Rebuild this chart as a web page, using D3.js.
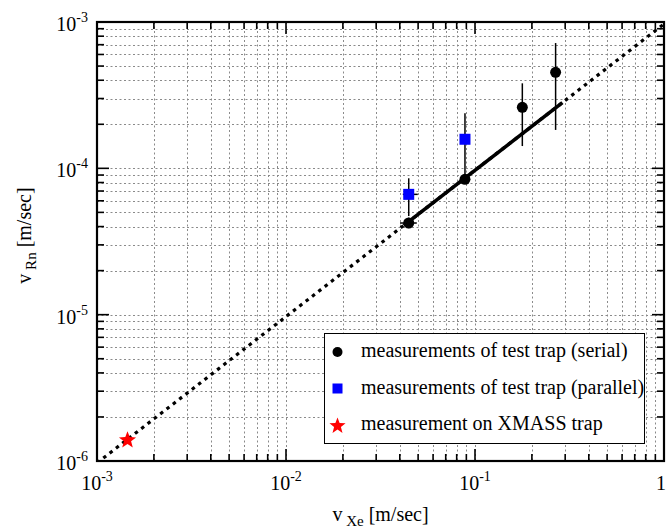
<!DOCTYPE html>
<html>
<head>
<meta charset="utf-8">
<script src="https://cdn.jsdelivr.net/npm/d3@7"></script>
<style>
  html, body { margin: 0; padding: 0; background: #fff; }
  svg { display: block; }
</style>
</head>
<body>
<svg id="chart" width="667" height="530" font-family="'Liberation Serif', 'DejaVu Serif', serif"></svg>
<script>
// Test-trap measurements, serial configuration
const serialX    = [0.0446, 0.0885, 0.178, 0.267];
const serialY    = [4.23e-5, 8.41e-5, 2.61e-4, 4.53e-4];
const serialYLo  = [3.9e-5, 8.0e-5, 1.42e-4, 1.83e-4];
const serialYHi  = [4.6e-5, 8.9e-5, 3.81e-4, 7.18e-4];
const serialXLo  = [0.0401, 0.0885, 0.178, 0.267];
const serialXHi  = [0.0492, 0.0885, 0.178, 0.267];

// Test-trap measurements, parallel configuration
const parallelX   = [0.0446, 0.0885];
const parallelY   = [6.64e-5, 1.58e-4];
const parallelYLo = [4.72e-5, 9.0e-5];
const parallelYHi = [8.55e-5, 2.38e-4];
const parallelXLo = [0.0415, 0.0885];
const parallelXHi = [0.0498, 0.0885];

// XMASS trap measurement
const xmassX = [0.00145];
const xmassY = [1.41e-6];

// Linear fit v_Rn = k * v_Xe
const fitK = 0.97e-3;
const fitSolidRange  = [0.042, 0.29];
const fitDottedRange = [0.001, 1];

const xDomain = [1e-3, 1];
const yDomain = [1e-6, 1e-3];
const xTickExp = [-3, -2, -1, 0];
const yTickExp = [-6, -5, -4, -3];

const legendLabels = [
  "measurements of test trap (serial)",
  "measurements of test trap (parallel)",
  "measurement on XMASS trap"
];

const svg = d3.select("#chart");
const L = 97, R = 664, T = 22, B = 461;
const FONT = "'Liberation Serif', 'DejaVu Serif', serif";

const x = d3.scaleLog().domain(xDomain).range([L, R]);
const y = d3.scaleLog().domain(yDomain).range([B, T]);

// Minor + major positions for grid
function logPositions(domain) {
  const out = [];
  const e0 = Math.round(Math.log10(domain[0])), e1 = Math.round(Math.log10(domain[1]));
  for (let e = e0; e < e1; e++) {
    for (let m = 1; m <= 9; m++) out.push({ v: m * Math.pow(10, e), major: m === 1 });
  }
  out.push({ v: Math.pow(10, e1), major: true });
  return out;
}
const xPos = logPositions(xDomain);
const yPos = logPositions(yDomain);

svg.append("defs").append("clipPath").attr("id", "plotClip")
  .append("rect").attr("x", L).attr("y", T).attr("width", R - L).attr("height", B - T);

// Dotted grid
const grid = svg.append("g").attr("stroke", "#8a8a8a").attr("stroke-width", 1)
  .attr("stroke-dasharray", "2,2.5");
grid.selectAll(".gx").data(xPos.filter(d => d.v > xDomain[0] && d.v < xDomain[1])).join("line")
  .attr("x1", d => Math.round(x(d.v)) + 0.5).attr("x2", d => Math.round(x(d.v)) + 0.5)
  .attr("y1", T).attr("y2", B);
grid.selectAll(".gy").data(yPos.filter(d => d.v > yDomain[0] && d.v < yDomain[1])).join("line")
  .attr("y1", d => Math.round(y(d.v)) + 0.5).attr("y2", d => Math.round(y(d.v)) + 0.5)
  .attr("x1", L).attr("x2", R);

// Ticks on all four sides (inward)
const ticks = svg.append("g").attr("stroke", "#000").attr("stroke-width", 1.6);
const majLen = 12, minLen = 7;
xPos.forEach(d => {
  const px = x(d.v), len = d.major ? majLen : minLen;
  ticks.append("line").attr("x1", px).attr("x2", px).attr("y1", B).attr("y2", B - len);
  ticks.append("line").attr("x1", px).attr("x2", px).attr("y1", T).attr("y2", T + len);
});
yPos.forEach(d => {
  const py = y(d.v), len = d.major ? majLen : minLen;
  ticks.append("line").attr("y1", py).attr("y2", py).attr("x1", L).attr("x2", L + len);
  ticks.append("line").attr("y1", py).attr("y2", py).attr("x1", R).attr("x2", R - len);
});

// Fit lines
const plot = svg.append("g").attr("clip-path", "url(#plotClip)");
const lineGen = d3.line().x(d => x(d[0])).y(d => y(d[1]));
plot.append("path")
  .datum(fitDottedRange.map(v => [v, fitK * v]))
  .attr("d", lineGen).attr("fill", "none").attr("stroke", "#000")
  .attr("stroke-width", 3.2).attr("stroke-dasharray", "3.5,4.5");
plot.append("path")
  .datum(fitSolidRange.map(v => [v, fitK * v]))
  .attr("d", lineGen).attr("fill", "none").attr("stroke", "#000")
  .attr("stroke-width", 3.6);

// Error bars
function errorBars(xs, ys, yLo, yHi, xLo, xHi) {
  const g = plot.append("g").attr("stroke", "#000").attr("stroke-width", 1.5);
  xs.forEach((xv, i) => {
    g.append("line").attr("x1", x(xv)).attr("x2", x(xv)).attr("y1", y(yLo[i])).attr("y2", y(yHi[i]));
    g.append("line").attr("x1", x(xLo[i])).attr("x2", x(xHi[i])).attr("y1", y(ys[i])).attr("y2", y(ys[i]));
  });
}
errorBars(serialX, serialY, serialYLo, serialYHi, serialXLo, serialXHi);
errorBars(parallelX, parallelY, parallelYLo, parallelYHi, parallelXLo, parallelXHi);

function starPath(ro) {
  const ri = ro * 0.42, pts = [];
  for (let k = 0; k < 10; k++) {
    const r = k % 2 === 0 ? ro : ri;
    const a = -Math.PI / 2 + k * Math.PI / 5;
    pts.push([r * Math.cos(a), r * Math.sin(a)]);
  }
  return "M" + pts.map(p => p[0].toFixed(2) + "," + p[1].toFixed(2)).join("L") + "Z";
}

// Markers
plot.selectAll(".serial").data(serialX).join("circle")
  .attr("cx", d => x(d)).attr("cy", (d, i) => y(serialY[i])).attr("r", 5.5).attr("fill", "#000");
plot.selectAll(".parallel").data(parallelX).join("rect")
  .attr("x", d => x(d) - 5.5).attr("y", (d, i) => y(parallelY[i]) - 5.5)
  .attr("width", 11).attr("height", 11).attr("fill", "#0000ff");
plot.selectAll(".xmass").data(xmassX).join("path")
  .attr("d", starPath(9))
  .attr("transform", (d, i) => `translate(${x(d)},${y(xmassY[i]) + 1})`)
  .attr("fill", "#ff0000");

// Legend
const lg = svg.append("g");
lg.append("rect").attr("x", 324.5).attr("y", 333.5).attr("width", 320).attr("height", 110)
  .attr("fill", "#fff").attr("stroke", "#000").attr("stroke-width", 1);
const rowY = [352, 388.5, 425];
lg.append("circle").attr("cx", 337.5).attr("cy", rowY[0]).attr("r", 5).attr("fill", "#000");
lg.append("rect").attr("x", 332.5).attr("y", rowY[1] - 5).attr("width", 10).attr("height", 10).attr("fill", "#0000ff");
lg.append("path").attr("d", starPath(8.5)).attr("transform", `translate(337.5,${rowY[2] + 1})`).attr("fill", "#ff0000");
legendLabels.forEach((t, i) => {
  lg.append("text").attr("x", 361).attr("y", rowY[i] + 5)
    .attr("font-family", FONT).attr("font-size", 20).text(t);
});

// Frame
svg.append("rect").attr("x", L).attr("y", T).attr("width", R - L).attr("height", B - T)
  .attr("fill", "none").attr("stroke", "#000").attr("stroke-width", 2.2);

// Tick labels
function powLabel(sel, e) {
  if (e === 0) { sel.append("tspan").text("1"); return; }
  sel.append("tspan").text("10");
  sel.append("tspan").attr("dy", -9).attr("font-size", 14).text(String(e));
}
yTickExp.forEach(e => {
  const t = svg.append("text").attr("x", 88).attr("y", y(Math.pow(10, e)) + 9)
    .attr("text-anchor", "end").attr("font-family", FONT).attr("font-size", 20);
  powLabel(t, e);
});
xTickExp.forEach(e => {
  const last = e === 0;
  const t = svg.append("text")
    .attr("x", last ? 666 : x(Math.pow(10, e))).attr("y", 490)
    .attr("text-anchor", last ? "end" : "middle")
    .attr("font-family", FONT).attr("font-size", 20);
  powLabel(t, e);
});

// Axis titles
const xt = svg.append("text").attr("x", (L + R) / 2).attr("y", 521)
  .attr("text-anchor", "middle").attr("font-family", FONT).attr("font-size", 20);
xt.append("tspan").text("v");
xt.append("tspan").attr("dy", 5).attr("font-size", 15).text(" Xe");
xt.append("tspan").attr("dy", -5).text(" [m/sec]");

const yt = svg.append("text").attr("transform", `translate(31,${(T + B) / 2 - 6}) rotate(-90)`)
  .attr("text-anchor", "middle").attr("font-family", FONT).attr("font-size", 20);
yt.append("tspan").text("v");
yt.append("tspan").attr("dy", 5).attr("font-size", 15).text(" Rn");
yt.append("tspan").attr("dy", -5).text(" [m/sec]");
</script>
</body>
</html>
